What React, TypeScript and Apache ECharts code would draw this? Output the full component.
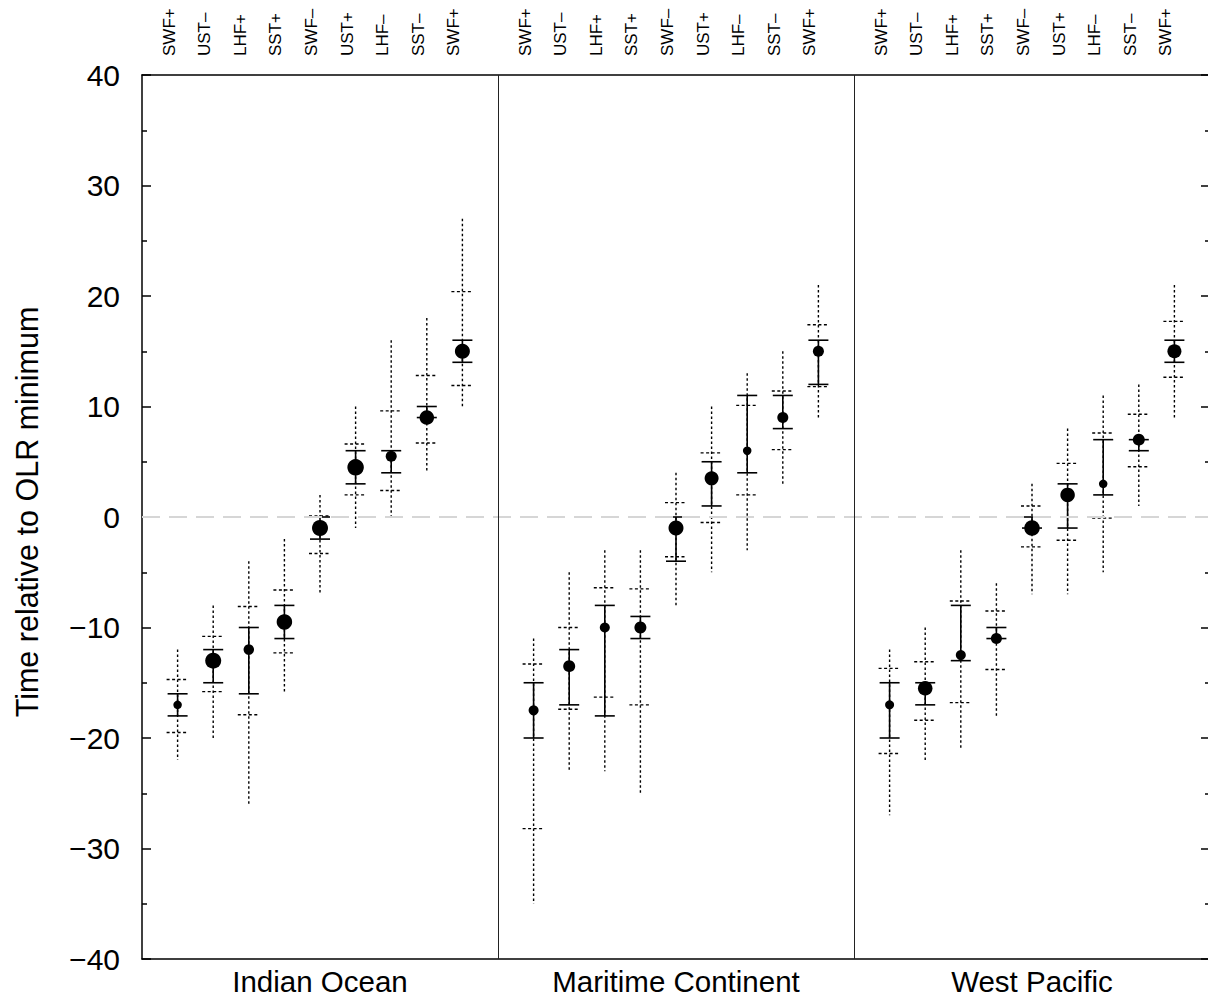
import React, { useEffect, useRef } from 'react';
import * as echarts from 'echarts';

// Categories (process order) shown above each panel
const categories = ['SWF+', 'UST–', 'LHF+', 'SST+', 'SWF–', 'UST+', 'LHF–', 'SST–', 'SWF+'];
// Regions (panels)
const regions = ['Indian Ocean', 'Maritime Continent', 'West Pacific'];
// Y tick range
const yMin = -40;
const yMax = 40;
const yStep = 10;

// Values per item, grouped: Indian Ocean (9), Maritime Continent (9), West Pacific (9)
const whiskerMax = [
  -12, -8, -4, -2, 2, 10, 16, 18, 27,
  -11, -5, -3, -3, 4, 10, 13, 15, 21,
  -12, -10, -3, -6, 3, 8, 11, 12, 21,
];
const outerHigh = [
  -14.7, -10.8, -8.1, -6.6, 0.1, 6.6, 9.6, 12.8, 20.4,
  -13.3, -10, -6.4, -6.5, 1.3, 5.8, 10.1, 11.4, 17.4,
  -13.7, -13.1, -7.6, -8.5, 1.0, 4.85, 7.6, 9.3, 17.7,
];
const innerHigh = [
  -16, -12, -10, -8, 0, 6, 6, 10, 16,
  -15, -12, -8, -9, 0, 5, 11, 11, 16,
  -15, -15, -8, -10, 0, 3, 7, 7, 16,
];
const median = [
  -17, -13, -12, -9.5, -1, 4.5, 5.5, 9, 15,
  -17.5, -13.5, -10, -10, -1, 3.5, 6, 9, 15,
  -17, -15.5, -12.5, -11, -1, 2, 3, 7, 15,
];
const innerLow = [
  -18, -15, -16, -11, -2, 3, 4, 9, 14,
  -20, -17, -18, -11, -4, 1, 4, 8, 12,
  -20, -17, -13, -11, -1, -1, 2, 6, 14,
];
const outerLow = [
  -19.5, -15.8, -17.9, -12.3, -3.3, 2, 2.4, 6.7, 11.9,
  -28.2, -17.4, -16.3, -17, -3.6, -0.5, 2, 6.1, 11.8,
  -21.4, -18.4, -16.8, -13.8, -2.7, -2.1, -0.1, 4.55, 12.65,
];
const whiskerMin = [
  -22, -20, -26, -16, -7, -1, 0, 4, 10,
  -35, -23, -23, -25, -8, -5, -3, 3, 9,
  -27, -22, -21, -18, -7, -7, -5, 1, 9,
];
const dotSize = [
  8.5, 16, 10.5, 15.5, 16, 16.5, 11, 14.5, 15,
  10, 12, 10, 12, 15, 14, 8.5, 11, 11,
  9, 14.5, 10, 11, 15.5, 14.5, 8.5, 12, 14,
];

const FONT = "'Liberation Sans', Arial, Helvetica, sans-serif";

export default function App() {
  const ref = useRef<HTMLDivElement>(null);

  useEffect(() => {
    if (!ref.current) return;
    const chart = echarts.init(ref.current, null, { renderer: 'svg' });
    const slots = categories.length + 1;

    const items: number[][] = [];
    regions.forEach((_, ri) => {
      categories.forEach((__, ci) => {
        const k = ri * categories.length + ci;
        items.push([
          ri * slots + ci + 1,
          whiskerMax[k], outerHigh[k], innerHigh[k], median[k],
          innerLow[k], outerLow[k], whiskerMin[k], dotSize[k],
        ]);
      });
    });

    const fmtNum = (v: number) => (v < 0 ? '−' + Math.abs(v) : String(v));

    const option: any = {
      animation: false,
      textStyle: { fontFamily: FONT, color: '#000' },
      grid: { left: 142, top: 75, width: 1068, height: 884, containLabel: false },
      xAxis: [
        {
          type: 'value', min: 0, max: regions.length * slots, interval: slots / 2,
          position: 'bottom',
          axisLine: { show: true, onZero: false, lineStyle: { color: '#000', width: 1.5 } },
          axisTick: { show: false },
          splitLine: { show: false },
          axisLabel: {
            fontSize: 29.5, color: '#000', margin: 7, fontFamily: FONT,
            showMinLabel: true, showMaxLabel: true,
            formatter: (v: number) => {
              const r = Math.round(v);
              if (r % slots === slots / 2) return regions[Math.floor(r / slots)] || '';
              return '';
            },
          },
        },
        {
          type: 'value', min: 0, max: regions.length * slots, interval: 1,
          position: 'top',
          axisLine: { show: true, onZero: false, lineStyle: { color: '#000', width: 1.5 } },
          axisTick: { show: false },
          splitLine: { show: false },
          axisLabel: {
            fontSize: 17, color: '#000', rotate: -90, margin: 19, fontFamily: FONT,
            verticalAlign: 'bottom',
            showMinLabel: true, showMaxLabel: true,
            formatter: (v: number) => {
              const r = Math.round(v) % slots;
              return r === 0 ? '' : categories[r - 1];
            },
          },
        },
      ],
      yAxis: [
        {
          type: 'value', min: yMin, max: yMax, interval: yStep, position: 'left',
          axisLine: { show: true, onZero: false, lineStyle: { color: '#000', width: 1.5 } },
          axisTick: { show: true, inside: true, length: 9, lineStyle: { color: '#000', width: 1.5 } },
          minorTick: { show: true, splitNumber: 2, length: 5, lineStyle: { color: '#000', width: 1.5 } },
          splitLine: { show: false },
          axisLabel: { fontSize: 30, color: '#000', margin: 22, fontFamily: FONT, formatter: fmtNum },
        },
        {
          type: 'value', min: yMin, max: yMax, interval: yStep, position: 'right',
          axisLine: { show: true, onZero: false, lineStyle: { color: '#000', width: 1.5 } },
          axisTick: { show: true, inside: true, length: 9, lineStyle: { color: '#000', width: 1.5 } },
          minorTick: { show: true, splitNumber: 2, length: 5, lineStyle: { color: '#000', width: 1.5 } },
          splitLine: { show: false },
          axisLabel: { show: false },
        },
      ],
      graphic: [
        {
          type: 'text', x: 27, y: 512, rotation: Math.PI / 2,
          style: {
            text: 'Time relative to OLR minimum', fontSize: 30.5, fontFamily: FONT, fill: '#000',
            align: 'center', verticalAlign: 'middle',
          },
        },
      ],
      series: [
        {
          type: 'line', data: [], xAxisIndex: 0, yAxisIndex: 0, z: 1,
          markLine: {
            silent: true, symbol: 'none', label: { show: false }, animation: false,
            data: [
              { yAxis: 0, lineStyle: { color: '#d6d6d6', width: 2, type: [18, 9] } },
              ...regions.slice(1).map((_, i) => ({
                xAxis: (i + 1) * slots, lineStyle: { color: '#222', width: 1, type: 'solid' },
              })),
            ],
          },
        },
        {
          type: 'custom', xAxisIndex: 0, yAxisIndex: 0, z: 3,
          encode: { x: 0, y: [1, 4, 7] },
          data: items,
          renderItem: (params: any, api: any) => {
            const x = api.value(0);
            const py = (v: number) => api.coord([x, v])[1];
            const cx = api.coord([x, 0])[0];
            const yWMax = py(api.value(1));
            const yOHi = py(api.value(2));
            const yIHi = py(api.value(3));
            const yMed = py(api.value(4));
            const yILo = py(api.value(5));
            const yOLo = py(api.value(6));
            const yWMin = py(api.value(7));
            const size = api.value(8);
            const dotted = { stroke: '#000', lineWidth: 1.4, lineDash: [2.5, 2.5] };
            const dashed = { stroke: '#000', lineWidth: 1.4, lineDash: [3, 2.5] };
            const solid = { stroke: '#000', lineWidth: 1.6 };
            const vline = (y1: number, y2: number, style: any) => ({
              type: 'line', shape: { x1: cx, y1, x2: cx, y2 }, style,
            });
            const hline = (y: number, half: number, style: any) => ({
              type: 'line', shape: { x1: cx - half, y1: y, x2: cx + half, y2: y }, style,
            });
            return {
              type: 'group',
              children: [
                vline(yWMax, yWMin, dotted),
                hline(yOHi, 11, dashed),
                hline(yOLo, 11, dashed),
                vline(yIHi, yILo, solid),
                hline(yIHi, 10, solid),
                hline(yILo, 10, solid),
                { type: 'circle', shape: { cx, cy: yMed, r: size / 2 }, style: { fill: '#000' } },
              ],
            };
          },
        },
      ],
    };

    chart.setOption(option);
    return () => chart.dispose();
  }, []);

  return (
    <div
      ref={ref}
      style={{ position: 'fixed', left: 0, top: 0, width: 1216, height: 998, background: '#fff' }}
    />
  );
}
